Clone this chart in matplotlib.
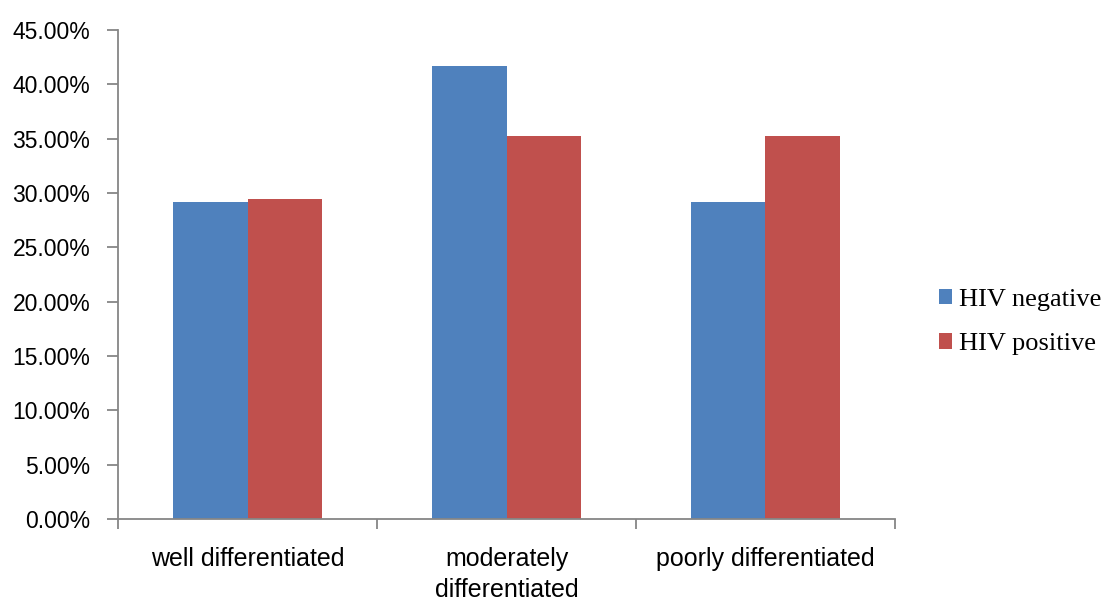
import numpy as np
import matplotlib
matplotlib.use('Agg')
from matplotlib import pyplot as plt
from matplotlib.ticker import FuncFormatter

categories = ['well differentiated', 'moderately\ndifferentiated', 'poorly differentiated']
hiv_negative = [29.17, 41.67, 29.17]
hiv_positive = [29.41, 35.29, 35.29]
series_names = ['HIV negative', 'HIV positive']

blue = '#4F81BD'
red = '#C0504D'
grey = '#868686'

fig = plt.figure(figsize=(11.02, 6.01), dpi=100)
ax = fig.add_axes([118/1102, 1-519/601, (895-118)/1102, (519-30)/601])

x = np.arange(len(categories))
w = 0.286
b1 = ax.bar(x - w/2, hiv_negative, w, color=blue, label=series_names[0])
b2 = ax.bar(x + w/2, hiv_positive, w, color=red, label=series_names[1])

ax.set_xlim(-0.5, 2.5)
ax.set_ylim(0, 45)
ax.set_yticks(np.arange(0, 46, 5))
ax.yaxis.set_major_formatter(FuncFormatter(lambda v, p: '%.2f%%' % v))

# major ticks at category boundaries, labels on minor ticks at centres
ax.set_xticks([-0.5, 0.5, 1.5, 2.5])
ax.set_xticklabels([])
ax.set_xticks(x, minor=True)
ax.set_xticklabels(categories, minor=True, fontsize=18, family='Liberation Sans',
                   linespacing=1.38)
ax.tick_params(axis='x', which='minor', length=0, pad=20)
ax.tick_params(axis='x', which='major', length=7, color=grey, width=1.3)
ax.tick_params(axis='y', length=8, color=grey, width=1.3, pad=12, labelsize=16.5)
for lab in ax.get_yticklabels():
    lab.set_family('Liberation Sans')

for s in ['top', 'right']:
    ax.spines[s].set_visible(False)
for s in ['left', 'bottom']:
    ax.spines[s].set_color(grey)
    ax.spines[s].set_linewidth(1.3)

fig.legend(handles=[b1, b2], loc='center left', bbox_to_anchor=(928/1102, 1-322/601),
           frameon=False, prop={'family': 'Liberation Serif', 'size': 19},
           handlelength=0.52, handleheight=0.52, handletextpad=0.25,
           labelspacing=0.85, borderaxespad=0)

fig.savefig('out.png', dpi=100)
